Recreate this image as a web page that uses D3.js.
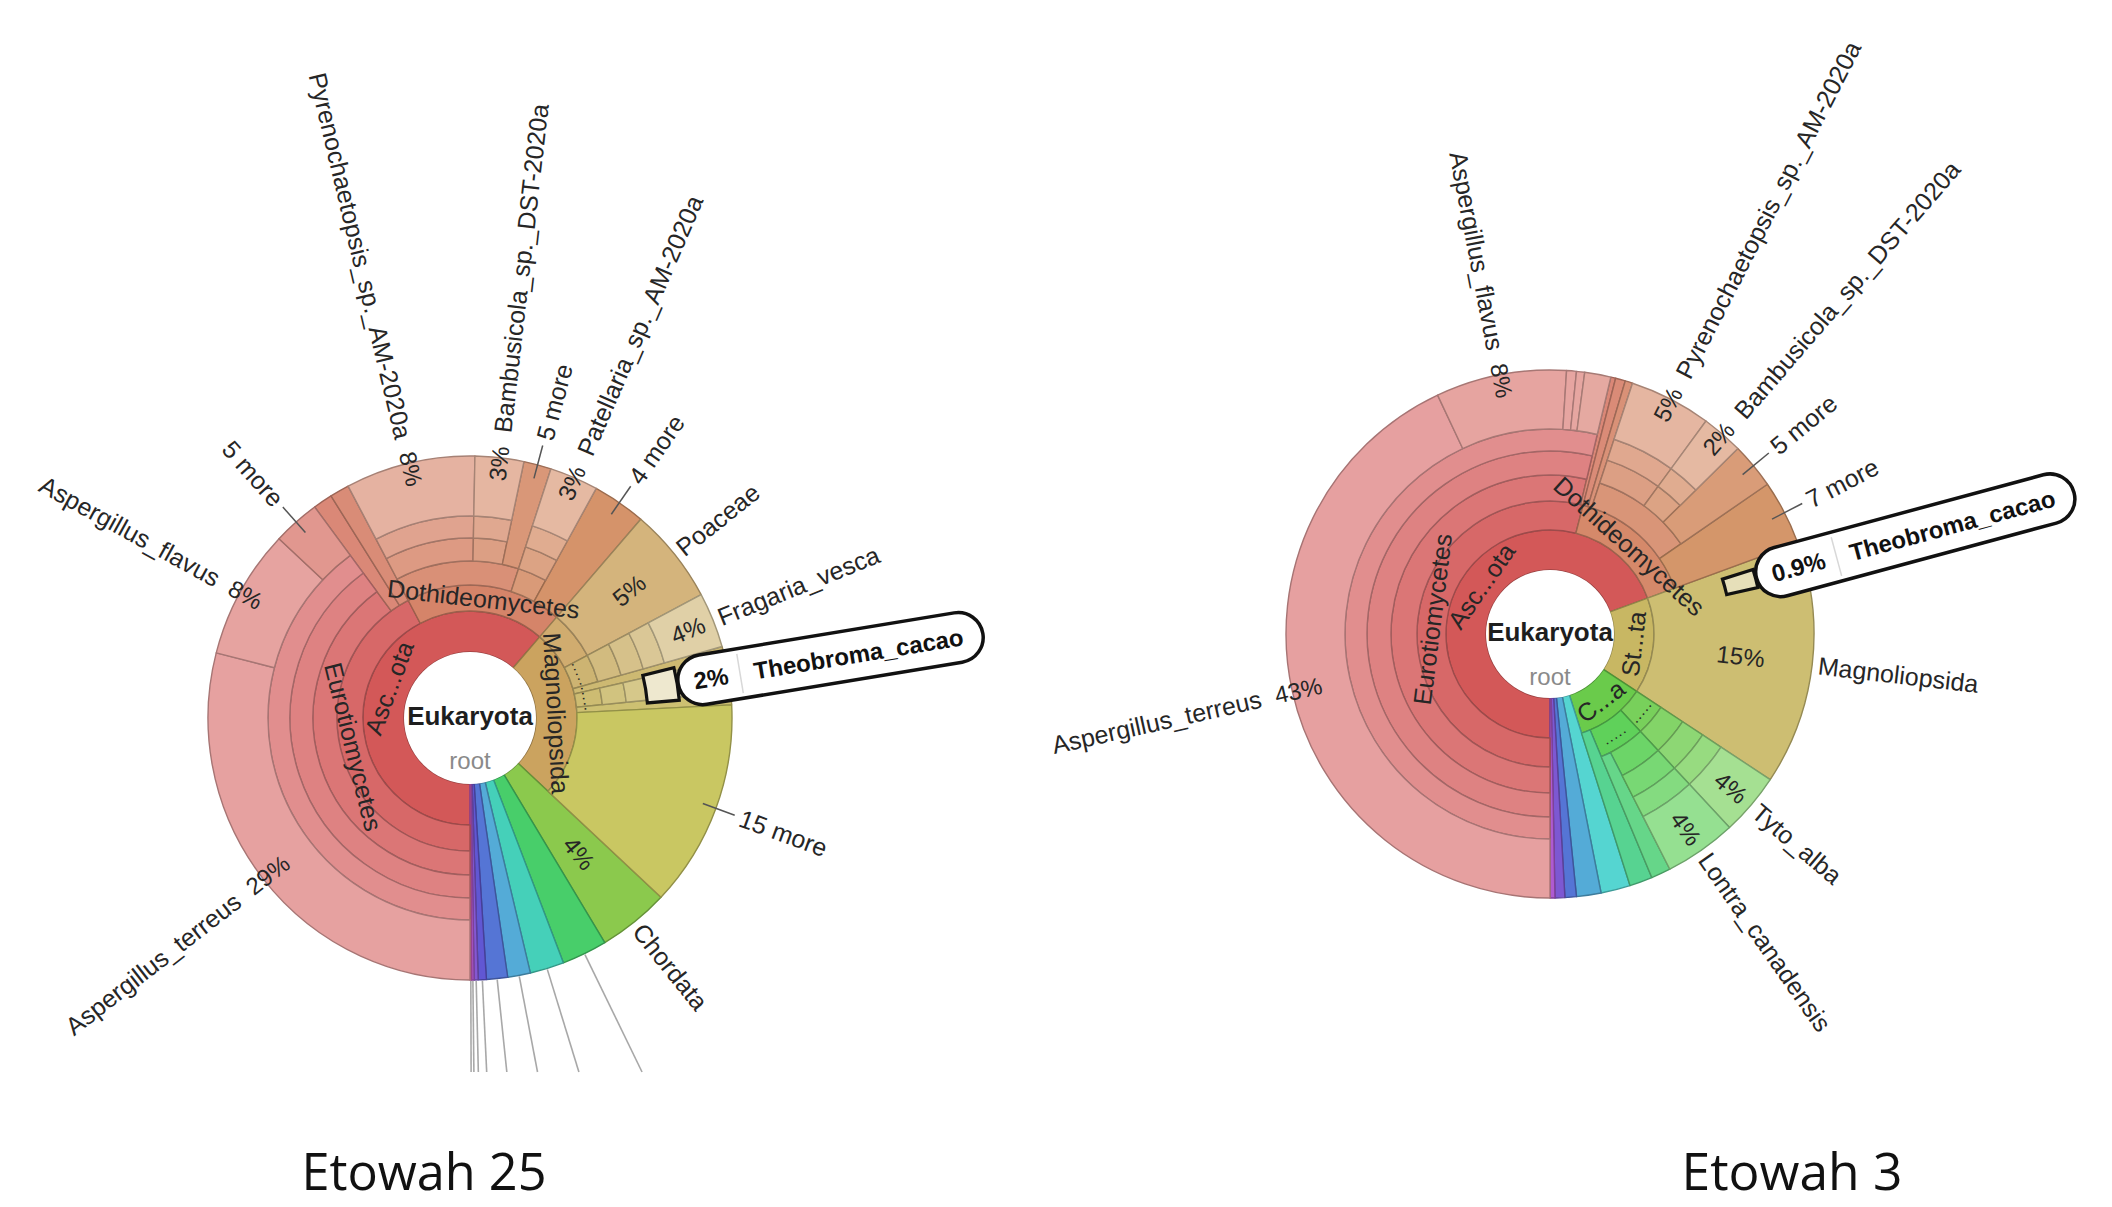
<!DOCTYPE html>
<html><head><meta charset="utf-8">
<script src="https://cdn.jsdelivr.net/npm/d3@7"></script>
<style>
body{margin:0;background:#fff;}
svg{display:block;font-family:"Liberation Sans",Arial,Helvetica,sans-serif;}
</style></head><body>
<svg id="chart" width="2112" height="1207"></svg>
<script>
// ================= DATA =================
// Each row: [taxon id, parent id, share of all reads in % (leaves only), ring label, outer label, percent label]
const e25Nodes = [
 ["Eukaryota","",0,"","",""],
 ["Ascomycota","Eukaryota",0,"Asc...ota","",""],
 ["Eurotiomycetes","Ascomycota",0,"Eurotiomycetes","",""],
 ["Eurotiales","Eurotiomycetes",0,"","",""],
 ["Aspergillaceae","Eurotiales",0,"","",""],
 ["Aspergillus","Aspergillaceae",0,"","",""],
 ["Aspergillus_terreus","Aspergillus",29,"","Aspergillus_terreus","29%"],
 ["Aspergillus_flavus","Aspergillus",8,"","Aspergillus_flavus","8%"],
 ["Aspergillus_more","Aspergillus",2.9,"","5 more",""],
 ["Eurotiomycetes_o1","Eurotiomycetes",1.2,"","",""],
 ["Eurotiomycetes_o2","Eurotiomycetes",1.2,"","",""],
 ["Dothideomycetes","Ascomycota",0,"Dothideomycetes","",""],
 ["Pleosporales","Dothideomycetes",0,"","",""],
 ["Pyrenochaetopsidaceae","Pleosporales",0,"","",""],
 ["Pyrenochaetopsis","Pyrenochaetopsidaceae",0,"","",""],
 ["Pyrenochaetopsis_sp._AM-2020a","Pyrenochaetopsis",8,"","Pyrenochaetopsis_sp._AM-2020a","8%"],
 ["Bambusicolaceae","Pleosporales",0,"","",""],
 ["Bambusicola","Bambusicolaceae",0,"","",""],
 ["Bambusicola_sp._DST-2020a","Bambusicola",3,"","Bambusicola_sp._DST-2020a","3%"],
 ["Pleosporales_more","Pleosporales",1.7,"","5 more",""],
 ["Patellariales","Dothideomycetes",0,"","",""],
 ["Patellariaceae","Patellariales",0,"","",""],
 ["Patellaria","Patellariaceae",0,"","",""],
 ["Patellaria_sp._AM-2020a","Patellaria",3,"","Patellaria_sp._AM-2020a","3%"],
 ["Dothideomycetes_more","Dothideomycetes",3.3,"","4 more",""],
 ["Magnoliopsida","Eukaryota",0,"Magnoliopsida","",""],
 ["Poales","Magnoliopsida",0,"","",""],
 ["Poaceae","Poales",5.9,"","Poaceae","5%"],
 ["Rosales","Magnoliopsida",0,".....","",""],
 ["Rosaceae","Rosales",0,"","",""],
 ["Rosoideae","Rosaceae",0,"","",""],
 ["Fragaria","Rosoideae",0,"","",""],
 ["Fragaria_vesca","Fragaria",3.4,"","Fragaria_vesca","4%"],
 ["Magnoliopsida_o1","Magnoliopsida",0.8,"","",""],
 ["Malvales","Magnoliopsida",0,".....","",""],
 ["Malvaceae","Malvales",0,"","",""],
 ["Byttnerioideae","Malvaceae",0,"","",""],
 ["Theobroma","Byttnerioideae",0,"","",""],
 ["Theobroma_cacao","Theobroma",2.0,"","Theobroma_cacao","2%"],
 ["Magnoliopsida_o2","Magnoliopsida",0.8,"","",""],
 ["Magnoliopsida_more","Magnoliopsida",12.8,"","15 more",""],
 ["Chordata","Eukaryota",4.4,"","Chordata","4%"],
 ["Other_1","Eukaryota",2.8,"","",""],
 ["Other_2","Eukaryota",2.1,"","",""],
 ["Other_3","Eukaryota",1.4,"","",""],
 ["Other_4","Eukaryota",1.3,"","",""],
 ["Other_5","Eukaryota",0.5,"","",""],
 ["Other_6","Eukaryota",0.25,"","",""],
 ["Other_7","Eukaryota",0.15,"","",""],
 ["Other_8","Eukaryota",0.1,"","",""]
];
const e25Collapsed = [];
const e25Highlight = "Theobroma_cacao";
// taxa whose outside labels are cut off by the crop (only their leader lines remain)
const e25Cropped = ["Other_1","Other_2","Other_3","Other_4","Other_5","Other_6","Other_7","Other_8"];

const e3Nodes = [
 ["Eukaryota","",0,"","",""],
 ["Ascomycota","Eukaryota",0,"Asc...ota","",""],
 ["Eurotiomycetes","Ascomycota",0,"Eurotiomycetes","",""],
 ["Eurotiales","Eurotiomycetes",0,"","",""],
 ["Aspergillaceae","Eurotiales",0,"","",""],
 ["Aspergillus","Aspergillaceae",0,"","",""],
 ["Aspergillus_terreus","Aspergillus",43,"","Aspergillus_terreus","43%"],
 ["Aspergillus_flavus","Aspergillus",8,"","Aspergillus_flavus","8%"],
 ["Aspergillus_o1","Aspergillus",0.6,"","",""],
 ["Aspergillus_o2","Aspergillus",0.5,"","",""],
 ["Aspergillus_o3","Aspergillus",1.6,"","",""],
 ["Eurotiomycetes_o1","Eurotiomycetes",0.3,"","",""],
 ["Dothideomycetes","Ascomycota",0,"Dothideomycetes","",""],
 ["Dothideomycetes_o1","Dothideomycetes",0.6,"","",""],
 ["Dothideomycetes_o2","Dothideomycetes",0.46,"","",""],
 ["Pleosporales","Dothideomycetes",0,"","",""],
 ["Pyrenochaetopsidaceae","Pleosporales",0,"","",""],
 ["Pyrenochaetopsis","Pyrenochaetopsidaceae",0,"","",""],
 ["Pyrenochaetopsis_sp._AM-2020a","Pyrenochaetopsis",5,"","Pyrenochaetopsis_sp._AM-2020a","5%"],
 ["Bambusicolaceae","Pleosporales",0,"","",""],
 ["Bambusicola","Bambusicolaceae",0,"","",""],
 ["Bambusicola_sp._DST-2020a","Bambusicola",2.54,"","Bambusicola_sp._DST-2020a","2%"],
 ["Pleosporales_more","Pleosporales",2.8,"","5 more",""],
 ["Dothideomycetes_more","Dothideomycetes",4.0,"","7 more",""],
 ["Streptophyta","Eukaryota",0,"St...ta","",""],
 ["Magnoliopsida","Streptophyta",0,"","Magnoliopsida","15%"],
 ["Magnoliopsida_o1","Magnoliopsida",0.95,"","",""],
 ["Theobroma_cacao","Magnoliopsida",0.9,"","Theobroma_cacao","0.9%"],
 ["Magnoliopsida_o2","Magnoliopsida",13.05,"","",""],
 ["Chordata","Eukaryota",0,"C...a","",""],
 ["Aves","Chordata",0,".....","",""],
 ["Strigiformes","Aves",0,"","",""],
 ["Tytonidae","Strigiformes",0,"","",""],
 ["Tyto","Tytonidae",0,"","",""],
 ["Tyto_alba","Tyto",3.8,"","Tyto_alba","4%"],
 ["Mammalia","Chordata",0,".....","",""],
 ["Carnivora","Mammalia",0,"","",""],
 ["Mustelidae","Carnivora",0,"","",""],
 ["Lontra","Mustelidae",0,"","",""],
 ["Lontra_canadensis","Lontra",4.4,"","Lontra_canadensis","4%"],
 ["Mammalia_o1","Mammalia",1.2,"","",""],
 ["Chordata_o1","Chordata",1.4,"","",""],
 ["Other_1","Eukaryota",1.8,"","",""],
 ["Other_2","Eukaryota",1.5,"","",""],
 ["Other_3","Eukaryota",0.7,"","",""],
 ["Other_4","Eukaryota",0.6,"","",""],
 ["Other_5","Eukaryota",0.3,"","",""]
];
const e3Collapsed = ["Magnoliopsida"];
const e3Highlight = "Theobroma_cacao";
const e3Cropped = [];

const captions = ["Etowah 25", "Etowah 3"];

// ================= STYLE / LAYOUT =================
const LIGHT = [0.56, 0.585, 0.625, 0.66, 0.69, 0.72, 0.765];
const satScale = d3.scaleLinear().domain([0,30,45,70,100,200,300]).range([.58,.55,.47,.50,.55,.62,.55]);
const leftHue = [[0,0],[37,3],[40,9],[42.3,14],[55,20],[61.3,24],[63.3,38],[70,45],[74,52],[76.2,59],[87,62],[89,90],[92.8,135],[95.25,170],[97,200],[98.35,225],[99.25,245],[99.625,262],[99.825,282],[99.95,305],[100,310]];
const rightHue = [[0,0],[51,3],[54,10],[55,17],[69.4,26],[70.5,50],[84.3,56],[85,100],[86.2,105],[90.3,118],[94.4,148],[96,178],[97.65,200],[98.75,225],[99.4,258],[99.85,283],[100,290]];

const svg = d3.select("#chart");
const angle = d3.scaleLinear().domain([0, 100]).range([Math.PI, 3 * Math.PI]);
const TXT = "#262626";

function polar(t, r) { return [r * Math.sin(t), -r * Math.cos(t)]; }
function degOf(t) { return ((t * 180 / Math.PI) % 360 + 360) % 360; }

function drawKrona(cfg) {
  const g = svg.append("g").attr("transform", `translate(${cfg.cx},${cfg.cy})`);
  const root = d3.stratify().id(d => d[0]).parentId(d => d[1])(cfg.nodes);
  root.sum(d => d[2]);
  d3.partition().size([100, 1])(root);
  const R = cfg.R;
  const ringR = d3.scaleLinear().domain(d3.range(1, cfg.rings.length + 1)).range(cfg.rings);
  const hue = d3.scaleLinear().domain(cfg.hue.map(k => k[0])).range(cfg.hue.map(k => k[1]));
  const collapsed = new Set(cfg.collapsed);
  const hidden = new Set();
  root.each(n => { if (n.parent && (hidden.has(n.parent) || collapsed.has(n.parent.id))) hidden.add(n); });
  const isLeaf = n => !n.children || collapsed.has(n.id);
  const inner = n => ringR(n.depth);
  const outer = n => isLeaf(n) ? R : ringR(n.depth + 1);
  const isMore = n => /more$/.test(n.data[4]);
  root.each(n => {
    if (!n.depth) return;
    const p = n.x0 + Math.min(2, (n.x1 - n.x0) / 2);
    const h = hue(p);
    let l = LIGHT[isMore(n) ? n.depth - 1 : Math.min(n.depth, 6)];
    if (h > 75 && h < 175) l -= 0.04;
    n.fill = d3.hsl(h, satScale(h), l).formatHex();
  });
  const nodes = root.descendants().filter(n => n.depth > 0 && !hidden.has(n));
  const arc = d3.arc().startAngle(n => angle(n.x0)).endAngle(n => angle(n.x1))
    .innerRadius(inner).outerRadius(outer);

  g.append("g").selectAll("path").data(nodes).join("path")
    .attr("d", arc).attr("fill", n => n.fill)
    .attr("stroke", n => d3.color(n.fill).darker(0.9).formatHex())
    .attr("stroke-width", 1.4).attr("stroke-linejoin", "round");
  g.append("circle").attr("r", cfg.rings[0]).attr("fill", "#fff");

  // cropped-label leader lines
  cfg.cropped.forEach(id => {
    const n = root.find(d => d.id === id);
    const t = angle((n.x0 + n.x1) / 2);
    const rEnd = (cfg.clipY - cfg.cy) / (-Math.cos(t));
    const a = polar(t, R + 1), b = polar(t, rEnd);
    g.append("line").attr("x1", a[0]).attr("y1", a[1]).attr("x2", b[0]).attr("y2", b[1])
      .attr("stroke", "#a8a8a8").attr("stroke-width", 1.6);
  });

  const lab = g.append("g").attr("fill", TXT);
  // ring (inner) labels, tangential
  nodes.filter(n => n.data[3] && !isLeaf(n)).forEach(n => {
    const t = angle((n.x0 + n.x1) / 2);
    const r = (inner(n) + outer(n)) / 2;
    const deg = degOf(t);
    const rot = (deg > 90 && deg < 270) ? deg - 180 : deg;
    const [x, y] = polar(t, r);
    const dotted = /^\.+$/.test(n.data[3]);
    lab.append("text").attr("transform", `translate(${x},${y}) rotate(${rot})`)
      .attr("text-anchor", "middle").attr("dominant-baseline", "central")
      .attr("font-size", dotted ? 15 : 25).attr("letter-spacing", dotted ? 1 : 0)
      .text(n.data[3]);
  });

  function radial(t, r, txt, size, centered, bold) {
    const deg = degOf(t);
    const right = deg < 180;
    const rot = right ? deg - 90 : deg + 90;
    const [x, y] = polar(t, r);
    return lab.append("text").attr("transform", `translate(${x},${y}) rotate(${rot})`)
      .attr("text-anchor", centered ? "middle" : (right ? "start" : "end"))
      .attr("dominant-baseline", "central").attr("font-size", size)
      .attr("font-weight", bold ? "bold" : null).text(txt);
  }

  // outer labels for leaves
  nodes.filter(n => isLeaf(n) && n.data[4] && n.id !== cfg.highlight).forEach(n => {
    const t = angle((n.x0 + n.x1) / 2);
    const deg = degOf(t);
    if (isMore(n)) {
      const a = polar(t, R - 14), b = polar(t, R + 20);
      g.append("line").attr("x1", a[0]).attr("y1", a[1]).attr("x2", b[0]).attr("y2", b[1])
        .attr("stroke", "#555").attr("stroke-width", 1.5);
      radial(t, R + 26, n.data[4], 25, false);
      return;
    }
    let nameR = R + 6;
    if (n.data[5]) {
      const atEdge = n.depth === cfg.rings.length && !(deg >= 60 && deg <= 180);
      const pr = atEdge ? R - 6 : inner(n) + 0.55 * (R - inner(n));
      const pt = radial(t, pr, n.data[5], 24, true);
      if (atEdge) nameR = pr + pt.node().getComputedTextLength() / 2 + 14;
    }
    radial(t, nameR, n.data[4], 25, false);
  });

  // hub
  g.append("text").attr("text-anchor", "middle").attr("dominant-baseline", "central")
    .attr("y", -2).attr("font-size", 26).attr("font-weight", "bold").attr("fill", "#1e1e1e").text("Eukaryota");
  g.append("text").attr("text-anchor", "middle").attr("dominant-baseline", "central")
    .attr("y", 42).attr("font-size", 24).attr("fill", "#8a8a8a").text("root");

  // highlighted search result
  const h = root.find(d => d.id === cfg.highlight);
  if (h) {
    const t = angle((h.x0 + h.x1) / 2);
    const boxArc = d3.arc().innerRadius(ringR(5) - 2).outerRadius(ringR(6) + 8)
      .startAngle(angle(h.x0 - 0.25)).endAngle(angle(h.x1 + 0.25));
    g.append("path").attr("d", boxArc()).attr("fill", d3.interpolateRgb(h.fill, "#ffffff")(0.45))
      .attr("stroke", "#111").attr("stroke-width", 3.2);
    const deg = degOf(t);
    const pg = g.append("g").attr("transform", `rotate(${deg - 90})`);
    const r0 = ringR(6) + 9;
    const rect = pg.append("rect").attr("y", -25).attr("height", 50).attr("rx", 25)
      .attr("fill", "#fff").attr("stroke", "#111").attr("stroke-width", 3.5);
    const pt = pg.append("text").attr("x", r0 + 16).attr("dominant-baseline", "central")
      .attr("font-size", 24).attr("font-weight", "bold").attr("fill", "#111").text(h.data[5]);
    const pw = pt.node().getComputedTextLength();
    const div = r0 + 16 + pw + 12;
    pg.append("line").attr("x1", div).attr("x2", div).attr("y1", -20).attr("y2", 20)
      .attr("stroke", "#d8d8d8").attr("stroke-width", 1.5);
    const nt = pg.append("text").attr("x", div + 14).attr("dominant-baseline", "central")
      .attr("font-size", 24).attr("font-weight", "bold").attr("fill", "#111").text(h.data[4]);
    const nw = nt.node().getComputedTextLength();
    rect.attr("x", r0).attr("width", div + 14 + nw + 20 - r0);
  }
}

drawKrona({ nodes: e25Nodes, collapsed: e25Collapsed, highlight: e25Highlight, cropped: e25Cropped,
  cx: 470, cy: 718, R: 262, rings: [66, 107, 133, 157, 180, 202], hue: leftHue, clipY: 1072 });
drawKrona({ nodes: e3Nodes, collapsed: e3Collapsed, highlight: e3Highlight, cropped: e3Cropped,
  cx: 1550, cy: 634, R: 264, rings: [64, 104, 133, 159, 183, 205], hue: rightHue, clipY: 1207 });

// captions
const capX = [424, 1792], capW = [245, 221];
svg.selectAll("text.cap").data(captions).join("text").attr("class", "cap")
  .attr("x", (d, i) => capX[i]).attr("y", 1190).attr("text-anchor", "middle")
  .attr("font-family", '"Open Sans", "Noto Sans", sans-serif').attr("font-size", 52)
  .attr("textLength", (d, i) => capW[i]).attr("lengthAdjust", "spacingAndGlyphs")
  .attr("fill", "#111").text(d => d);
</script>
</body></html>
